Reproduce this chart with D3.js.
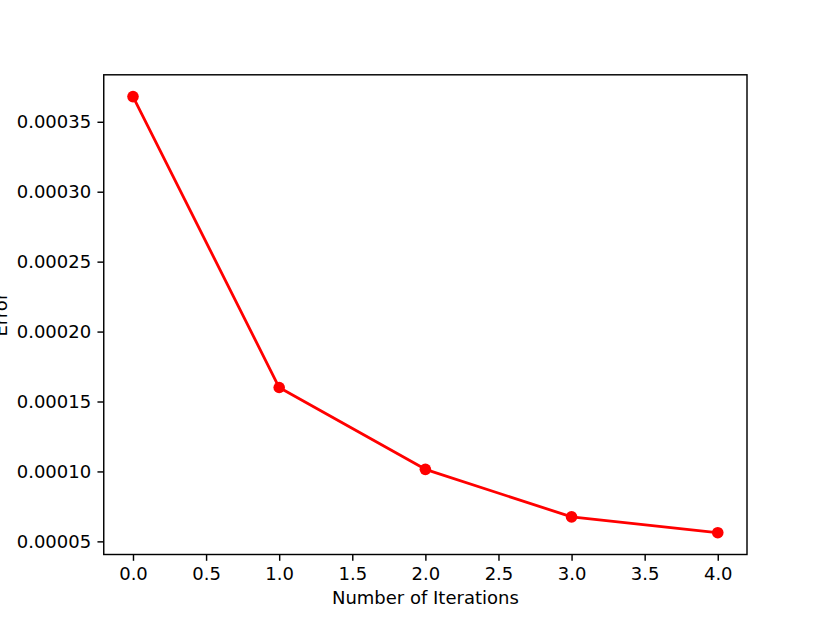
<!DOCTYPE html>
<html>
<head>
<meta charset="utf-8">
<script src="https://cdn.jsdelivr.net/npm/d3@7"></script>
<style>
  html, body { margin: 0; padding: 0; background: #fff; }
  svg { display: block; font-family: "DejaVu Sans", sans-serif; }
  .axis text { font-size: 18px; fill: #000; }
  .axis line { stroke: #000; stroke-width: 1.44px; }
  .axis path { display: none; }
  .axis-label { font-size: 18px; fill: #000; }
</style>
</head>
<body>
<svg id="chart"></svg>
<script>
// error per iteration
const iterations = [0, 1, 2, 3, 4];
const errors = [0.000368, 0.000160, 0.0001015, 0.0000675, 0.0000562];
const xTicks = [0, 0.5, 1, 1.5, 2, 2.5, 3, 3.5, 4];
const yTicks = [0.00005, 0.0001, 0.00015, 0.0002, 0.00025, 0.0003, 0.00035];

const width = 830;
const height = 623;
const margin = { top: 74.8, right: 83, bottom: 68.5, left: 103.75 };

const svg = d3.select('#chart').attr('width', width).attr('height', height);

// matplotlib-style 5% padding around the data
const [yMin, yMax] = d3.extent(errors);
const yPad = (yMax - yMin) * 0.05;
const x = d3.scaleLinear().domain([-0.2, 4.2]).range([margin.left, width - margin.right]);
const y = d3.scaleLinear().domain([yMin - yPad, yMax + yPad]).range([height - margin.bottom, margin.top]);

svg.append('g')
  .attr('class', 'axis')
  .attr('transform', `translate(0,${height - margin.bottom})`)
  .call(d3.axisBottom(x).tickValues(xTicks).tickFormat(d3.format('.1f')).tickSize(6.3).tickPadding(6.3).tickSizeOuter(0));

svg.append('g')
  .attr('class', 'axis')
  .attr('transform', `translate(${margin.left},0)`)
  .call(d3.axisLeft(y).tickValues(yTicks).tickFormat(d3.format('.5f')).tickSize(6.3).tickPadding(6.3).tickSizeOuter(0));

svg.selectAll('.axis text').attr('font-family', '"DejaVu Sans", sans-serif');

const line = d3.line().x((d, i) => x(iterations[i])).y((d) => y(d));
svg.append('path')
  .datum(errors)
  .attr('fill', 'none')
  .attr('stroke', '#ff0000')
  .attr('stroke-width', 2.8)
  .attr('stroke-linejoin', 'round')
  .attr('stroke-linecap', 'square')
  .attr('d', line);

svg.append('g')
  .selectAll('circle')
  .data(errors)
  .join('circle')
  .attr('cx', (d, i) => x(iterations[i]))
  .attr('cy', (d) => y(d))
  .attr('r', 5.8)
  .attr('fill', '#ff0000');

// axes frame
svg.append('rect')
  .attr('x', margin.left)
  .attr('y', margin.top)
  .attr('width', width - margin.left - margin.right)
  .attr('height', height - margin.top - margin.bottom)
  .attr('fill', 'none')
  .attr('stroke', '#000')
  .attr('stroke-width', 1.44);

svg.append('text')
  .attr('class', 'axis-label')
  .attr('x', (margin.left + width - margin.right) / 2)
  .attr('y', 604)
  .attr('text-anchor', 'middle')
  .text('Number of Iterations');

// the reference clips this label at the left edge, keep the same spot
svg.append('text')
  .attr('class', 'axis-label')
  .attr('transform', `translate(7,${(margin.top + height - margin.bottom) / 2}) rotate(-90)`)
  .attr('text-anchor', 'middle')
  .text('Error');
</script>
</body>
</html>
